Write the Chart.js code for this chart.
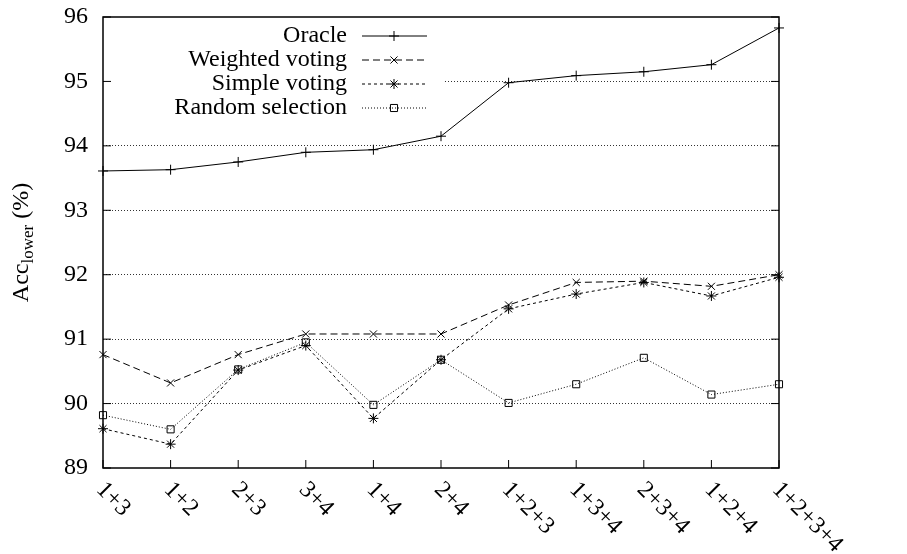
<!DOCTYPE html>
<html>
<head>
<meta charset="utf-8">
<script src="https://cdn.jsdelivr.net/npm/chart.js@4/dist/chart.umd.min.js"></script>
<style>
  html, body { margin: 0; padding: 0; background: #fff; }
  #wrap { width: 907px; height: 554px; }
</style>
</head>
<body>
<div id="wrap"><canvas id="acc"></canvas></div>
<script>
const combos = ['1+3', '1+2', '2+3', '3+4', '1+4', '2+4', '1+2+3', '1+3+4', '2+3+4', '1+2+4', '1+2+3+4'];
const oracle   = [93.61, 93.63, 93.75, 93.90, 93.94, 94.15, 94.98, 95.09, 95.15, 95.26, 95.83];
const weighted = [90.76, 90.32, 90.76, 91.08, 91.08, 91.08, 91.53, 91.88, 91.90, 91.82, 92.00];
const simple   = [89.61, 89.37, 90.52, 90.90, 89.77, 90.68, 91.47, 91.70, 91.88, 91.67, 91.96];
const random   = [89.82, 89.60, 90.53, 90.95, 89.98, 90.68, 90.01, 90.30, 90.71, 90.14, 90.30];
const yTicks = [89, 90, 91, 92, 93, 94, 95, 96];

const serif = '"Liberation Serif", "DejaVu Serif", serif';

const series = [
  { label: 'Oracle', data: oracle, pointStyle: 'cross', dash: [] },
  { label: 'Weighted voting', data: weighted, pointStyle: 'crossRot', dash: [7, 4] },
  { label: 'Simple voting', data: simple, pointStyle: 'star', dash: [3, 3] },
  { label: 'Random selection', data: random, pointStyle: 'rect', dash: [1, 2] }
];

// frame, inward ticks, rotated x labels, legend, y title
const decor = {
  id: 'decor',
  afterDatasetsDraw(chart) {
    const ctx = chart.ctx;
    const a = chart.chartArea;
    const x = chart.scales.x, y = chart.scales.y;
    ctx.save();

    // legend box (opaque, hides grid)
    ctx.fillStyle = '#fff';
    ctx.fillRect(a.left + 1, a.top + 1, 340, 102);
    ctx.font = '24px ' + serif;
    ctx.textAlign = 'right';
    ctx.textBaseline = 'middle';
    series.forEach(function(s, i) {
      const ly = 36 + i * 24;
      ctx.fillStyle = '#000';
      ctx.fillText(s.label, 347, ly);
      ctx.beginPath();
      ctx.setLineDash(s.dash);
      ctx.lineWidth = 1;
      ctx.strokeStyle = '#000';
      ctx.moveTo(362, ly);
      ctx.lineTo(427, ly);
      ctx.stroke();
      ctx.setLineDash([]);
      ctx.fillStyle = 'rgba(0,0,0,0)';
      Chart.helpers.drawPoint(ctx, { pointStyle: s.pointStyle, radius: 5, rotation: 0, borderWidth: 1 }, 394, ly);
    });

    // frame
    ctx.setLineDash([]);
    ctx.strokeStyle = '#000';
    ctx.lineWidth = 1.5;
    ctx.strokeRect(a.left, a.top, a.right - a.left, a.bottom - a.top);

    // inward ticks
    ctx.lineWidth = 1;
    ctx.beginPath();
    yTicks.forEach(function(v) {
      const py = y.getPixelForValue(v);
      ctx.moveTo(a.left, py); ctx.lineTo(a.left + 8, py);
      ctx.moveTo(a.right, py); ctx.lineTo(a.right - 8, py);
    });
    combos.forEach(function(c, i) {
      const px = x.getPixelForValue(i);
      ctx.moveTo(px, a.bottom); ctx.lineTo(px, a.bottom - 8);
    });
    ctx.stroke();

    // rotated category labels
    ctx.fillStyle = '#000';
    ctx.font = '24px ' + serif;
    ctx.textAlign = 'left';
    ctx.textBaseline = 'middle';
    combos.forEach(function(c, i) {
      const px = x.getPixelForValue(i);
      ctx.save();
      ctx.translate(px - 3, a.bottom + 18);
      ctx.rotate(Math.PI / 4);
      ctx.fillText(c, 0, 0);
      ctx.restore();
    });

    // y axis title: Acc_lower (%)
    ctx.save();
    ctx.translate(28, (a.top + a.bottom) / 2);
    ctx.rotate(-Math.PI / 2);
    ctx.textBaseline = 'alphabetic';
    ctx.textAlign = 'left';
    ctx.font = '24px ' + serif;
    const w1 = ctx.measureText('Acc').width;
    ctx.font = '17px ' + serif;
    const w2 = ctx.measureText('lower').width;
    ctx.font = '24px ' + serif;
    const w3 = ctx.measureText(' (%)').width;
    let sx = -(w1 + w2 + w3) / 2;
    ctx.fillText('Acc', sx, 0);
    sx += w1;
    ctx.font = '17px ' + serif;
    ctx.fillText('lower', sx, 5);
    sx += w2;
    ctx.font = '24px ' + serif;
    ctx.fillText(' (%)', sx, 0);
    ctx.restore();

    ctx.restore();
  }
};

new Chart(document.getElementById('acc'), {
  type: 'line',
  data: {
    labels: combos,
    datasets: series.map(function(s) {
      return {
        label: s.label,
        data: s.data,
        borderColor: '#000',
        backgroundColor: 'transparent',
        borderWidth: 1,
        borderDash: s.dash,
        tension: 0,
        pointStyle: s.pointStyle,
        pointRadius: 5,
        pointBorderColor: '#000',
        pointBackgroundColor: 'transparent',
        pointBorderWidth: 1
      };
    })
  },
  options: {
    responsive: true,
    maintainAspectRatio: false,
    animation: false,
    layout: { padding: { left: 0, right: 128, top: 17, bottom: 0 } },
    plugins: {
      legend: { display: false },
      tooltip: { enabled: false }
    },
    scales: {
      x: {
        offset: false,
        grid: { display: false, drawTicks: false },
        border: { display: false },
        ticks: { display: false },
        afterFit: function(s) { s.height = 86; s.paddingLeft = 0; s.paddingRight = 0; }
      },
      y: {
        min: 89,
        max: 96,
        border: { display: false, dash: [1, 2] },
        grid: {
          drawTicks: false,
          lineWidth: 1,
          color: function(c) {
            const v = c.tick ? c.tick.value : null;
            return (v === 89 || v === 96) ? 'transparent' : '#333';
          }
        },
        ticks: {
          stepSize: 1,
          padding: 15,
          color: '#000',
          font: { family: serif, size: 24 }
        },
        afterFit: function(s) { s.width = 103; s.paddingTop = 0; s.paddingBottom = 0; }
      }
    }
  },
  plugins: [decor]
});
</script>
</body>
</html>
